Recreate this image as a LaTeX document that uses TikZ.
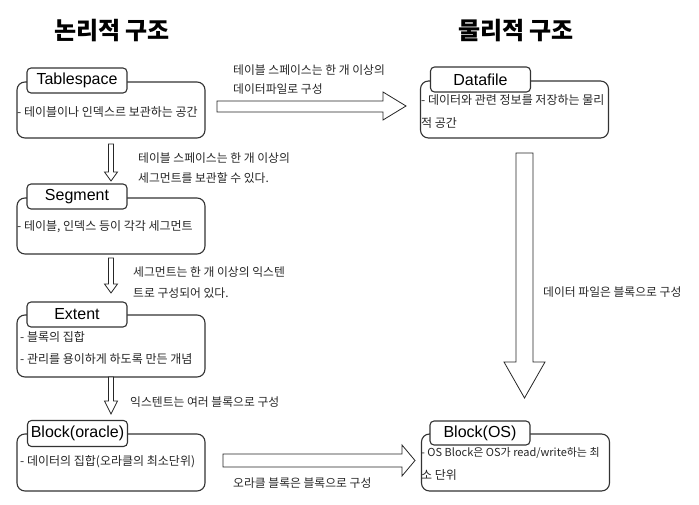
\documentclass[tikz,border=0pt]{standalone}
\usepackage{fontspec}
\setmainfont{Noto Sans CJK KR}
\newfontfamily\latinfont{Liberation Sans}
\begin{document}
\begin{tikzpicture}[x=1pt,y=-1pt,
  bigbox/.style={draw=black!80,line width=1.1pt,rounded corners=8pt,fill=white,minimum width=188pt,inner sep=0pt},
  tabbox/.style={draw=black!80,line width=1.1pt,rounded corners=4pt,fill=white,minimum width=100pt,minimum height=25pt,inner sep=0pt,font=\latinfont\fontsize{16}{18}\selectfont},
  body/.style={anchor=west,inner sep=0pt,font=\fontsize{12}{14}\selectfont,text=black!85},
  lbl/.style={anchor=west,inner sep=0pt,font=\fontsize{11.8}{14}\selectfont,text=black!85},
  ttl/.style={inner sep=0pt,font=\bfseries\fontsize{24}{28}\selectfont},
  barrow/.style={draw=black!85,line width=0.8pt,fill=white,line join=miter}]
\useasboundingbox (0,0) rectangle (699,505);

% titles
\node[ttl] (tl) at (112,31) {논리적 구조};
\node[ttl] (tr) at (516,31) {물리적 구조};

% left boxes
\node[bigbox,minimum height=56pt] (ts) at (111,110) {};
\node[tabbox] (tst) at (77,80.5) {Tablespace};
\node[body] (tsx) at (17,112) {- 테이블이나 인덱스르 보관하는 공간};

\node[bigbox,minimum height=56pt] (sg) at (111,226) {};
\node[tabbox] (sgt) at (77,196.5) {Segment};
\node[body] (sgx) at (17,227) {- 테이블, 인덱스 등이 각각 세그먼트};

\node[bigbox,minimum height=62pt] (ex) at (111,346) {};
\node[tabbox] (ext) at (77,314.5) {Extent};
\node[body] (ex1) at (20,337) {- 블록의 집합};
\node[body] (ex2) at (20,359) {- 관리를 용이하게 하도록 만든 개념};

\node[bigbox,minimum height=57pt] (bo) at (111,462.5) {};
\node[tabbox,minimum height=26pt] (bot) at (77.5,433.5) {Block(oracle)};
\node[body] (box) at (20,462) {- 데이터의 집합(오라클의 최소단위)};

% right boxes
\node[bigbox,minimum height=57pt] (df) at (514.5,109.5) {};
\node[tabbox] (dft) at (480.5,79.5) {Datafile};
\node[body] (df1) at (421,100) {- 데이터와 관련 정보를 저장하는 물리};
\node[body] (df2) at (421,123) {적 공간};

\node[bigbox,minimum height=57pt] (bs) at (515.5,462.5) {};
\node[tabbox,minimum height=24pt] (bst) at (480,433) {Block(OS)};
\node[body,font=\fontsize{11}{13}\selectfont] (bs1) at (421,453) {- OS Block은 OS가 read/write하는 최};
\node[body] (bs2) at (421,475) {소 단위};

% block arrows
\draw[barrow] (217,101) -- (383,101) -- (383,92) -- (406,106) -- (383,120) -- (383,112) -- (217,112) -- cycle;
\draw[barrow] (223,454) -- (402,454) -- (402,445) -- (415,460.5) -- (402,476) -- (402,467) -- (223,467) -- cycle;
\draw[barrow] (108.5,144) -- (113.5,144) -- (113.5,172) -- (117.5,172) -- (111,181) -- (104.5,172) -- (108.5,172) -- cycle;
\draw[barrow] (108.5,258) -- (113.5,258) -- (113.5,284) -- (117.5,284) -- (111,293) -- (104.5,284) -- (108.5,284) -- cycle;
\draw[barrow] (108.5,377) -- (113.5,377) -- (113.5,401) -- (117.5,401) -- (111,414) -- (104.5,401) -- (108.5,401) -- cycle;
\draw[barrow] (516,153) -- (533,153) -- (533,362) -- (545,362) -- (524.5,398) -- (504,362) -- (516,362) -- cycle;

% arrow labels
\node[lbl] (l1a) at (233,70) {테이블 스페이스는 한 개 이상의};
\node[lbl] (l1b) at (233,89) {데이터파일로 구성};
\node[lbl] (l2a) at (138,158) {테이블 스페이스는 한 개 이상의};
\node[lbl] (l2b) at (138,178) {세그먼트를 보관할 수 있다.};
\node[lbl] (l3a) at (133,272) {세그먼트는 한 개 이상의 익스텐};
\node[lbl] (l3b) at (133,293) {트로 구성되어 있다.};
\node[lbl] (l4) at (130,402) {익스텐트는 여러 블록으로 구성};
\node[lbl] (l5) at (233,483) {오라클 블록은 블록으로 구성};
\node[lbl] (l6) at (543,292) {데이터 파일은 블록으로 구성};
\end{tikzpicture}
\end{document}
